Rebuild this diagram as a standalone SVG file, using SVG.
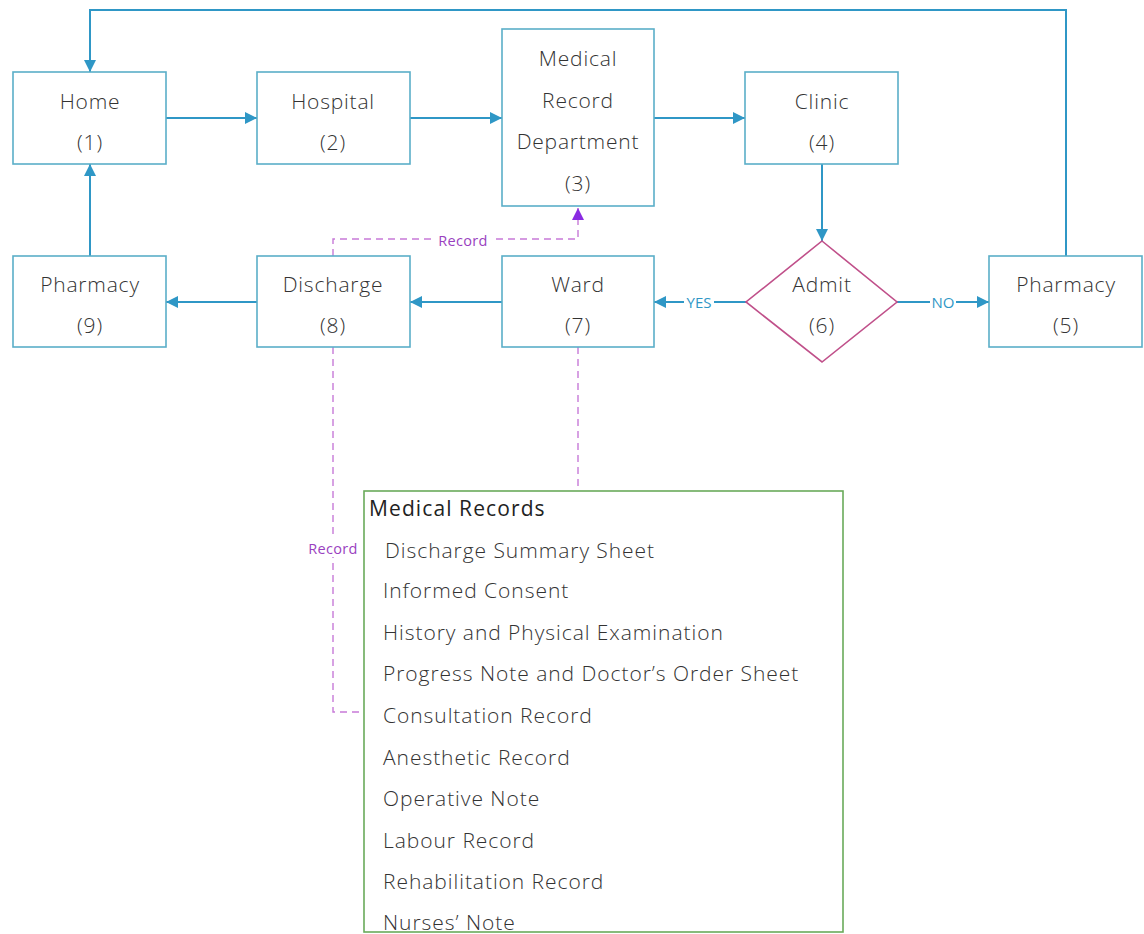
<svg xmlns="http://www.w3.org/2000/svg" width="1144" height="934" viewBox="0 0 1144 934">
<style>
.box{fill:#fff;stroke:#5aaec8;stroke-width:1.6}
.t{font-family:"Open Sans","Liberation Sans",sans-serif;font-weight:300;font-size:21px;letter-spacing:0.8px;fill:#333;text-anchor:middle;dominant-baseline:central}
.c{fill:none;stroke:#2f97c6;stroke-width:2}
.d{fill:none;stroke:#c77ad8;stroke-width:1.4;stroke-dasharray:7 5}
.lbl{font-family:"Open Sans","Liberation Sans",sans-serif;font-size:15px;fill:#2f97c6;text-anchor:middle;dominant-baseline:central}
.rec{font-family:"Open Sans","Liberation Sans",sans-serif;font-size:14.5px;fill:#9a3fc0;text-anchor:middle;dominant-baseline:central;letter-spacing:0.3px}
.li{font-family:"Open Sans","Liberation Sans",sans-serif;font-weight:300;font-size:21px;letter-spacing:0.95px;fill:#333;dominant-baseline:central}
</style>
<defs>
<marker id="ab" viewBox="0 0 12 12" refX="12" refY="6" markerWidth="12" markerHeight="12" markerUnits="userSpaceOnUse" orient="auto"><path d="M0,0 L12,6 L0,12 Z" fill="#2f97c6"/></marker>
<marker id="ap" viewBox="0 0 12 12" refX="12" refY="6" markerWidth="12" markerHeight="12" markerUnits="userSpaceOnUse" orient="auto"><path d="M0,0 L12,6 L0,12 Z" fill="#8a2be2"/></marker>
</defs>
<rect width="1144" height="934" fill="#fff"/>
<g id="connectors">
<path class="c" d="M1066,256 V10 H90 V72" marker-end="url(#ab)"/>
<path class="c" d="M166,118 H257" marker-end="url(#ab)"/>
<path class="c" d="M410,118 H502" marker-end="url(#ab)"/>
<path class="c" d="M654,118 H745" marker-end="url(#ab)"/>
<path class="c" d="M822,164 V241" marker-end="url(#ab)"/>
<path class="c" d="M746,302 H654" marker-end="url(#ab)"/>
<path class="c" d="M897,302 H989" marker-end="url(#ab)"/>
<path class="c" d="M502,302 H410" marker-end="url(#ab)"/>
<path class="c" d="M257,302 H166" marker-end="url(#ab)"/>
<path class="c" d="M90,256 V164" marker-end="url(#ab)"/>
<rect x="684" y="292" width="30" height="20" fill="#fff"/>
<text class="lbl" x="699" y="302">YES</text>
<rect x="930" y="292" width="26" height="20" fill="#fff"/>
<text class="lbl" x="943" y="302">NO</text>
<path class="d" d="M333,256 V239 H578 V208" marker-end="url(#ap)"/>
<rect x="436" y="231" width="56" height="17" fill="#fff"/>
<text class="rec" x="463" y="240">Record</text>
<path class="d" d="M333,347 V712 H365"/>
<rect x="304" y="539" width="58" height="18" fill="#fff"/>
<text class="rec" x="333" y="548">Record</text>
<path class="d" d="M578,347 V491"/>
</g>
<g id="n1"><rect class="box" x="13" y="72" width="153" height="92"/><text class="t" x="90" y="101">Home</text><text class="t" x="90" y="142">(1)</text></g>
<g id="n2"><rect class="box" x="257" y="72" width="153" height="92"/><text class="t" x="333" y="101">Hospital</text><text class="t" x="333" y="142">(2)</text></g>
<g id="n3"><rect class="box" x="502" y="29" width="152" height="177"/><text class="t" x="578" y="58">Medical</text><text class="t" x="578" y="100">Record</text><text class="t" x="578" y="141">Department</text><text class="t" x="578" y="183">(3)</text></g>
<g id="n4"><rect class="box" x="745" y="72" width="153" height="92"/><text class="t" x="822" y="101">Clinic</text><text class="t" x="822" y="142">(4)</text></g>
<g id="n5"><rect class="box" x="989" y="256" width="153" height="91"/><text class="t" x="1066" y="284">Pharmacy</text><text class="t" x="1066" y="325">(5)</text></g>
<g id="n6"><path d="M822,241 L897,302 L822,362 L746,302 Z" fill="#fff" stroke="#c0508a" stroke-width="1.6"/><text class="t" x="822" y="284">Admit</text><text class="t" x="822" y="325">(6)</text></g>
<g id="n7"><rect class="box" x="502" y="256" width="152" height="91"/><text class="t" x="578" y="284">Ward</text><text class="t" x="578" y="325">(7)</text></g>
<g id="n8"><rect class="box" x="257" y="256" width="153" height="91"/><text class="t" x="333" y="284">Discharge</text><text class="t" x="333" y="325">(8)</text></g>
<g id="n9"><rect class="box" x="13" y="256" width="153" height="91"/><text class="t" x="90" y="284">Pharmacy</text><text class="t" x="90" y="325">(9)</text></g>
<g id="records">
<rect x="364" y="491" width="479" height="441" fill="#fff" stroke="#6aaa5a" stroke-width="1.6"/>
<text class="li" x="369" y="508" style="font-weight:400;fill:#222;letter-spacing:1.1px">Medical Records</text>
<text class="li" x="385" y="550">Discharge Summary Sheet</text>
<text class="li" x="383" y="590">Informed Consent</text>
<text class="li" x="383" y="632">History and Physical Examination</text>
<text class="li" x="383" y="673">Progress Note and Doctor’s Order Sheet</text>
<text class="li" x="383" y="715">Consultation Record</text>
<text class="li" x="383" y="757">Anesthetic Record</text>
<text class="li" x="383" y="798">Operative Note</text>
<text class="li" x="383" y="840">Labour Record</text>
<text class="li" x="383" y="881">Rehabilitation Record</text>
<text class="li" x="383" y="922">Nurses’ Note</text>
</g>
</svg>
